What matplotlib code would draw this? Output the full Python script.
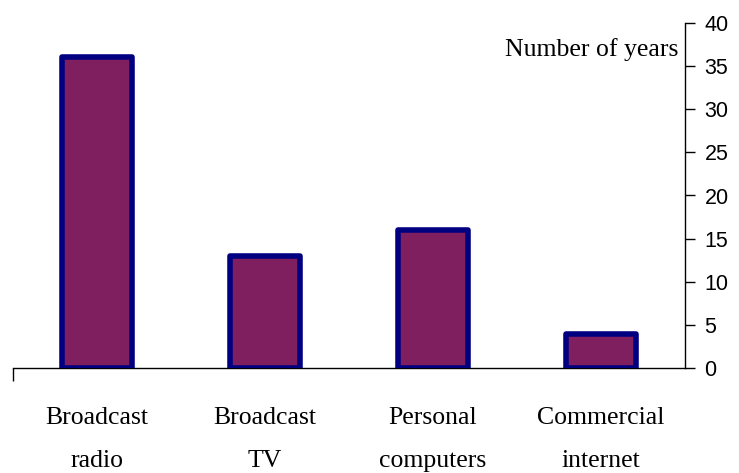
import matplotlib
matplotlib.use("Agg")
import matplotlib.pyplot as plt
from matplotlib.transforms import blended_transform_factory

categories = ["Broadcast\nradio", "Broadcast\nTV", "Personal\ncomputers", "Commercial\ninternet"]
years = [36, 13, 16, 4]
y_ticks = [0, 5, 10, 15, 20, 25, 30, 35, 40]
axis_title = "Number of years"

W, H = 739, 473
fig = plt.figure(figsize=(W / 100, H / 100), dpi=100)
ax = fig.add_axes([13 / W, (H - 368) / H, (685 - 13) / W, (368 - 23) / H])

x = list(range(len(categories)))
ax.bar(x, years, width=0.42, color="#7F1F5F", edgecolor="#000080",
       linewidth=4.0, joinstyle="round", zorder=3)

ax.set_xlim(-0.5, len(categories) - 0.5)
ax.set_ylim(0, 40)

# value axis on the right
ax.yaxis.tick_right()
ax.set_yticks(y_ticks)
ax.set_yticklabels([str(t) for t in y_ticks], family="Liberation Sans", fontsize=15.5)
ax.tick_params(axis="y", direction="out", length=7, width=1, pad=7, colors="black")
for side in ("top", "left"):
    ax.spines[side].set_visible(False)
ax.spines["right"].set_linewidth(1)
ax.spines["bottom"].set_linewidth(1)

# category axis: only a small tick at the left end
ax.set_xticks([-0.5])
ax.set_xticklabels([""])
ax.tick_params(axis="x", direction="out", length=9, width=1)

trans = blended_transform_factory(ax.transData, ax.transAxes)
for xi, label in zip(x, categories):
    first, second = label.split("\n")
    ax.text(xi, -0.145, first, transform=trans, ha="center", va="center",
            family="Liberation Serif", fontsize=18.5)
    ax.text(xi, -0.27, second, transform=trans, ha="center", va="center",
            family="Liberation Serif", fontsize=18.5)

ax.text(0.99, 0.922, axis_title, transform=ax.transAxes, ha="right", va="center",
        family="Liberation Serif", fontsize=18.5)

fig.savefig("out.png", dpi=100)
